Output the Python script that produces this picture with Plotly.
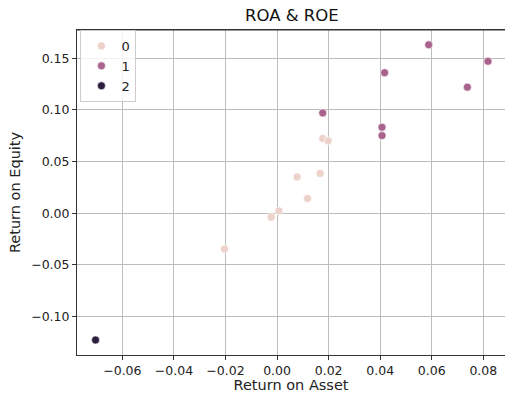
import plotly.graph_objects as go

roa_0 = [0.0177, 0.0198, 0.0167, 0.0078, 0.0118, 0.0007, -0.0023, -0.0204]
roe_0 = [0.0722, 0.0700, 0.0384, 0.0351, 0.0142, 0.0022, -0.0039, -0.0348]
roa_1 = [0.0588, 0.0818, 0.0417, 0.0738, 0.0177, 0.0407, 0.0407]
roe_1 = [0.163, 0.147, 0.136, 0.122, 0.097, 0.0832, 0.0751]
roa_2 = [-0.0704]
roe_2 = [-0.1228]
clusters = ["0", "1", "2"]
colors = ["#edd1cb", "#a8628c", "#2d1e3e"]

fig = go.Figure()
for name, xs, ys, c in zip(clusters, [roa_0, roa_1, roa_2], [roe_0, roe_1, roe_2], colors):
    fig.add_trace(go.Scatter(
        x=xs, y=ys, mode="markers", name=name,
        marker=dict(color=c, size=8, line=dict(color="white", width=0.6)),
    ))

font = "DejaVu Sans, sans-serif"
fig.update_layout(
    width=505, height=393,
    margin=dict(l=77, r=0, t=30, b=38, autoexpand=False),
    paper_bgcolor="white", plot_bgcolor="white",
    font=dict(family=font, size=12, color="#222"),
    title=dict(text="ROA & ROE", x=0.578, xanchor="center", y=0.96, yanchor="middle",
               font=dict(size=16.5, color="#111")),
    showlegend=True,
    legend=dict(x=0.008, y=1.0, xanchor="left", yanchor="top",
                bgcolor="rgba(255,255,255,0.8)", bordercolor="#cccccc", borderwidth=1,
                font=dict(size=13, color="#222"), itemwidth=30, tracegroupgap=0),
)
fig.update_xaxes(
    automargin=False,
    range=[-0.0776, 0.0884], tickvals=[-0.06, -0.04, -0.02, 0.0, 0.02, 0.04, 0.06, 0.08],
    tickformat=".2f", tickfont=dict(size=12.5),
    showgrid=True, gridcolor="#bdbdbd", gridwidth=1, zeroline=False,
    showline=True, linecolor="#333", linewidth=1, mirror=True,
    ticks="outside", ticklen=4, tickcolor="#333",
    title=dict(text="Return on Asset", font=dict(size=14.5, color="#222"), standoff=4),
)
fig.update_yaxes(
    automargin=False,
    range=[-0.1373, 0.1773], tickvals=[-0.10, -0.05, 0.0, 0.05, 0.10, 0.15],
    tickformat=".2f", tickfont=dict(size=12.5),
    showgrid=True, gridcolor="#bdbdbd", gridwidth=1, zeroline=False,
    showline=True, linecolor="#333", linewidth=1, mirror=False,
    ticks="outside", ticklen=4, tickcolor="#333",
    title=dict(text="Return on Equity", font=dict(size=14.5, color="#222"), standoff=7),
)
fig.add_shape(type="line", xref="paper", yref="paper", x0=0, x1=1, y0=1, y1=1,
              line=dict(color="#333", width=1.2))
fig.write_html("out.html", config={"displayModeBar": False},
               post_script="document.body.style.margin='0px';")
